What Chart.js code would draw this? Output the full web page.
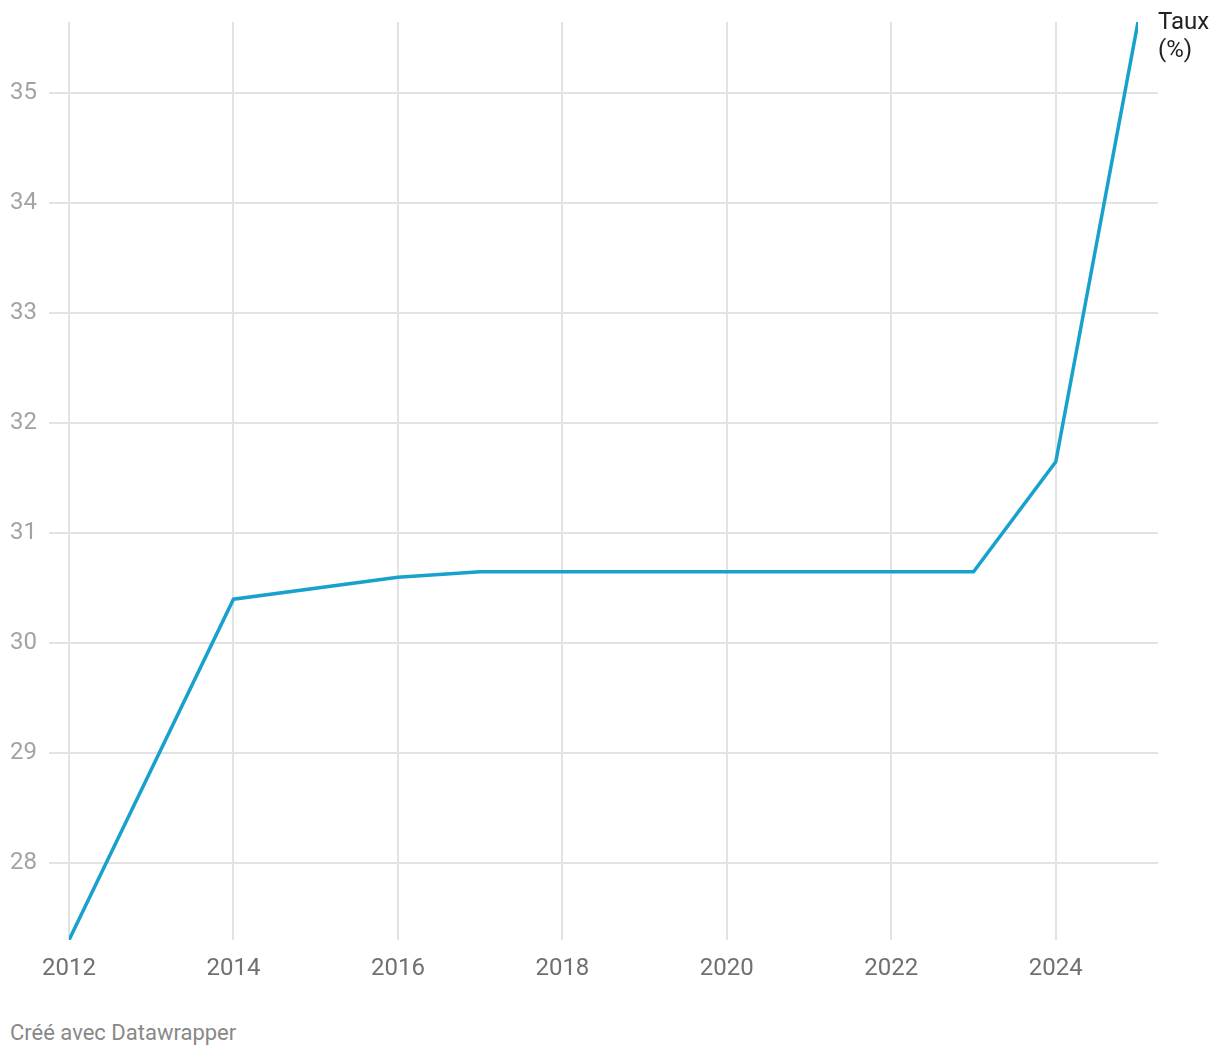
<!DOCTYPE html>
<html>
<head>
<meta charset="utf-8">
<script src="https://cdn.jsdelivr.net/npm/chart.js@4/dist/chart.umd.min.js"></script>
<style>
  html, body { margin: 0; padding: 0; background: #fff; }
  #wrap { position: relative; width: 1220px; height: 1056px; }
  #chart { position: absolute; left: 0; top: 0; }
  #credit {
    position: absolute; left: 10px; top: 1020px;
    font: 22px Roboto, sans-serif; color: #888;
  }
</style>
</head>
<body>
<div id="wrap">
  <canvas id="chart" width="1220" height="1000"></canvas>
  <div id="credit">Créé avec Datawrapper</div>
</div>
<script>
const years = [2012, 2014, 2016, 2017, 2018, 2019, 2020, 2021, 2022, 2023, 2024, 2025];
const rates = [27.3, 30.4, 30.6, 30.65, 30.65, 30.65, 30.65, 30.65, 30.65, 30.65, 31.65, 35.65];
const xTicks = [2012, 2014, 2016, 2018, 2020, 2022, 2024];
const yTicks = [28, 29, 30, 31, 32, 33, 34, 35];
const seriesLabel = ['Taux', '(%)'];

const gridPlugin = {
    id: 'dwGrid',
    beforeDatasetsDraw(chart) {
        const { ctx, chartArea, scales } = chart;
        ctx.save();
        ctx.strokeStyle = '#e3e3e3';
        ctx.lineWidth = 2;
        yTicks.forEach(v => {
            const y = Math.round(scales.y.getPixelForValue(v));
            ctx.beginPath();
            ctx.moveTo(chartArea.left - 20, y);
            ctx.lineTo(chartArea.right + 20, y);
            ctx.stroke();
        });
        xTicks.forEach(v => {
            const x = Math.round(scales.x.getPixelForValue(v));
            ctx.beginPath();
            ctx.moveTo(x, chartArea.top);
            ctx.lineTo(x, chartArea.bottom);
            ctx.stroke();
        });
        ctx.restore();
    },
    afterDraw(chart) {
        const { ctx, chartArea } = chart;
        ctx.save();
        ctx.font = '24px Roboto, sans-serif';
        ctx.fillStyle = '#222';
        ctx.textBaseline = 'middle';
        ctx.textAlign = 'left';
        seriesLabel.forEach((t, i) => {
            ctx.fillText(t, chartArea.right + 20, 23 + i * 28);
        });
        ctx.restore();
    }
};

function noEdgePadding(axis) {
    axis.paddingTop = 0;
    axis.paddingBottom = 0;
    axis.paddingLeft = 0;
    axis.paddingRight = 0;
}

new Chart(document.getElementById('chart'), {
    type: 'line',
    data: {
        datasets: [{
            label: seriesLabel.join(' '),
            data: years.map((y, i) => ({ x: y, y: rates[i] })),
            borderColor: '#18a1cd',
            borderWidth: 3.5,
            pointRadius: 0,
            tension: 0,
            fill: false
        }]
    },
    options: {
        responsive: false,
        animation: false,
        layout: { padding: { top: 22, right: 82, left: 10, bottom: 0 } },
        plugins: {
            legend: { display: false },
            tooltip: { enabled: false }
        },
        scales: {
            x: {
                type: 'linear',
                min: 2012,
                max: 2025,
                border: { display: false },
                grid: { display: false },
                afterBuildTicks: axis => { axis.ticks = xTicks.map(v => ({ value: v })); },
                afterFit: axis => { axis.height = 60; noEdgePadding(axis); },
                ticks: {
                    padding: 7,
                    color: '#707070',
                    font: { family: 'Roboto', size: 24 },
                    callback: v => String(v)
                }
            },
            y: {
                min: 27.3,
                max: 35.65,
                border: { display: false },
                grid: { display: false },
                afterBuildTicks: axis => { axis.ticks = yTicks.map(v => ({ value: v })); },
                afterFit: axis => { axis.width = 59; noEdgePadding(axis); },
                ticks: {
                    crossAlign: 'far',
                    padding: 12,
                    color: '#a3a3a3',
                    font: { family: 'Roboto', size: 24 }
                }
            }
        }
    },
    plugins: [gridPlugin]
});
</script>
</body>
</html>
